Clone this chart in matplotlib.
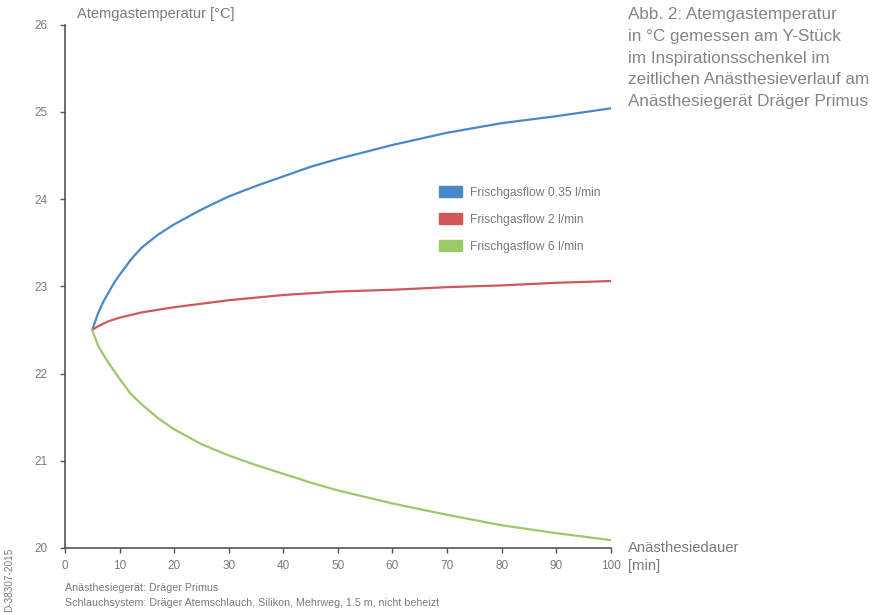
import matplotlib
matplotlib.use('Agg')
import matplotlib.pyplot as plt
from matplotlib.patches import Patch

plt.rcParams['font.family'] = ['Liberation Sans', 'DejaVu Sans']

# Anästhesiedauer [min]
minutes = [5, 6, 7, 8, 9, 10, 12, 14, 17, 20, 25, 30, 35, 40, 45, 50, 60, 70, 80, 90, 100]

# Atemgastemperatur [°C] je Frischgasflow
temp_035 = [22.50, 22.68, 22.82, 22.93, 23.04, 23.13, 23.30, 23.44, 23.59, 23.71, 23.88,
            24.03, 24.15, 24.26, 24.37, 24.46, 24.62, 24.76, 24.87, 24.95, 25.04]
temp_2 = [22.50, 22.54, 22.57, 22.60, 22.62, 22.64, 22.67, 22.70, 22.73, 22.76, 22.80,
          22.84, 22.87, 22.90, 22.92, 22.94, 22.96, 22.99, 23.01, 23.04, 23.06]
temp_6 = [22.50, 22.33, 22.22, 22.12, 22.03, 21.94, 21.77, 21.65, 21.49, 21.36, 21.19,
          21.06, 20.95, 20.85, 20.75, 20.66, 20.51, 20.38, 20.26, 20.17, 20.09]

labels = ['Frischgasflow 0.35 l/min', 'Frischgasflow 2 l/min', 'Frischgasflow 6 l/min']
colors = ['#4a88cc', '#d05858', '#9bc868']

x_ticks = list(range(0, 101, 10))
y_ticks = [20, 21, 22, 23, 24, 25, 26]

text_gray = '#7a7a7a'
axis_gray = '#555555'

fig = plt.figure(figsize=(8.84, 6.15), dpi=100)
ax = fig.add_axes([0.0735, 0.109, 0.6175, 0.851])

for y, c in zip([temp_035, temp_2, temp_6], colors):
    ax.plot(minutes, y, color=c, lw=1.6, solid_capstyle='round')

ax.set_xlim(0, 100)
ax.set_ylim(20, 26)
ax.set_xticks(x_ticks)
ax.set_yticks(y_ticks)
for side in ['top', 'right']:
    ax.spines[side].set_visible(False)
for side in ['left', 'bottom']:
    ax.spines[side].set_color(axis_gray)
    ax.spines[side].set_linewidth(1.2)
ax.tick_params(direction='out', length=3.5, width=1, color=axis_gray,
               labelcolor=text_gray, labelsize=8.5)
ax.tick_params(axis='y', pad=9)
ax.tick_params(axis='x', pad=5)

# Achsenbeschriftungen
fig.text(0.087, 0.977, 'Atemgastemperatur [°C]', fontsize=10.5, color=text_gray,
         va='center', ha='left')
fig.text(0.710, 0.109, 'Anästhesiedauer', fontsize=10.7, color=text_gray,
         va='center', ha='left')
fig.text(0.710, 0.080, '[min]', fontsize=10.7, color=text_gray,
         va='center', ha='left')

# Bildunterschrift rechts
caption = ('Abb. 2: Atemgastemperatur\n'
           'in °C gemessen am Y-Stück\n'
           'im Inspirationsschenkel im\n'
           'zeitlichen Anästhesieverlauf am\n'
           'Anästhesiegerät Dräger Primus')
fig.text(0.710, 0.988, caption, fontsize=12.3, color='#858585', va='top', ha='left',
         linespacing=1.55)

# Fußnoten
fig.text(0.0735, 0.044, 'Anästhesiegerät: Dräger Primus', fontsize=7.7,
         color=text_gray, va='center', ha='left')
fig.text(0.0735, 0.019,
         'Schlauchsystem: Dräger Atemschlauch, Silikon, Mehrweg, 1.5 m, nicht beheizt',
         fontsize=7.7, color=text_gray, va='center', ha='left')
fig.text(0.010, 0.058, 'D-38307-2015', fontsize=7.2, color=text_gray,
         rotation=90, va='center', ha='center')

handles = [Patch(facecolor=c, edgecolor=c) for c in colors]
fig.legend(handles, labels, loc='upper left', bbox_to_anchor=(0.490, 0.707),
           frameon=False, fontsize=8.7, handlelength=1.9, handleheight=1.0,
           labelspacing=1.2, borderpad=0, handletextpad=0.65, labelcolor=text_gray)

fig.savefig('out.png', dpi=100)
